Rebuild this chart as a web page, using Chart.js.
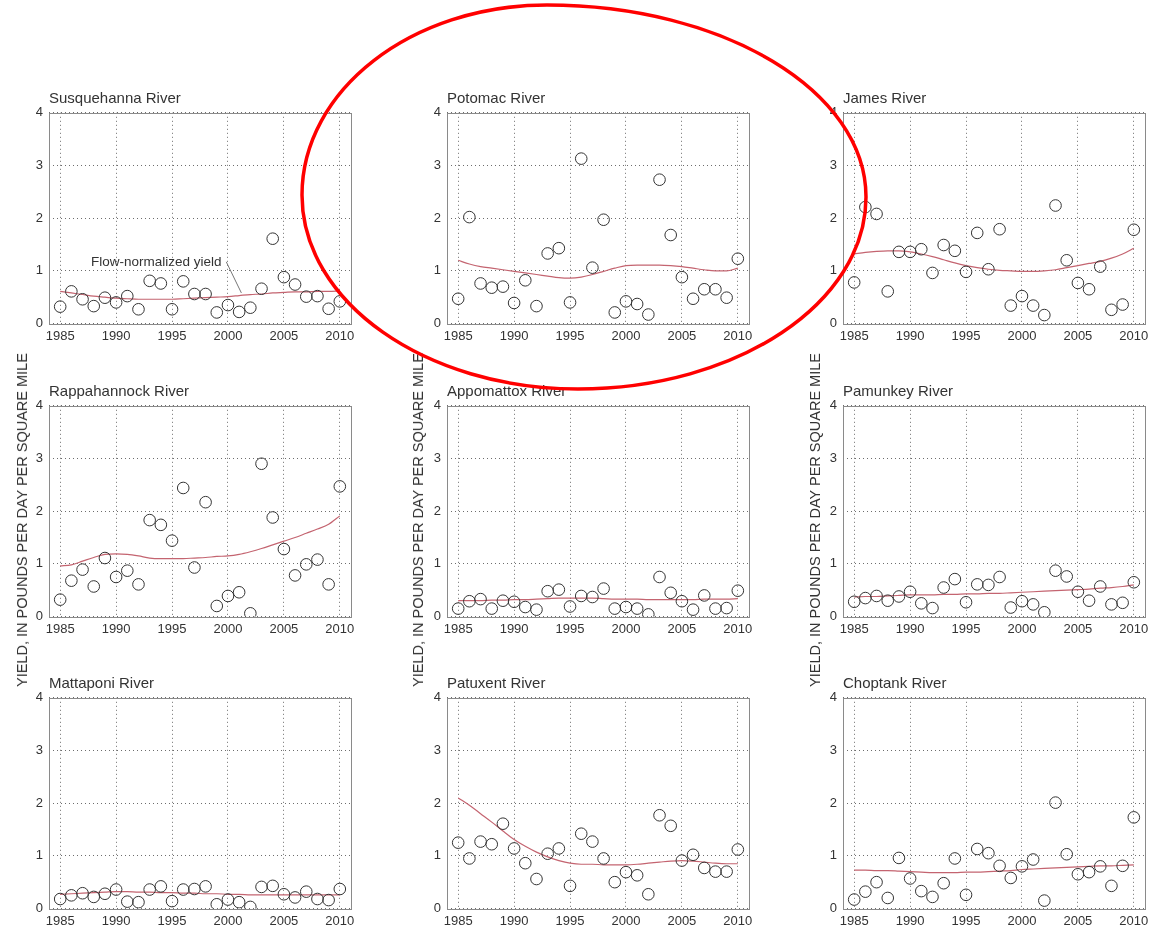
<!DOCTYPE html>
<html>
<head>
<meta charset="utf-8">
<script src="https://cdn.jsdelivr.net/npm/chart.js@4.4.1/dist/chart.umd.min.js"></script>
<style>
html,body{margin:0;padding:0;background:#fff;width:1150px;height:929px;overflow:hidden;position:relative;font-family:"Liberation Sans",Arial,sans-serif}
canvas.panel{position:absolute}
.ylab{position:absolute;white-space:nowrap;font-size:14.5px;color:#333;transform:translate(-50%,-50%) rotate(-90deg);}
svg.mark{position:absolute;left:0;top:0;pointer-events:none}
</style>
</head>
<body>
<script>
// ---------- data ----------
const years = [1985,1986,1987,1988,1989,1990,1991,1992,1993,1994,1995,1996,1997,1998,1999,2000,2001,2002,2003,2004,2005,2006,2007,2008,2009,2010];
const xTicks = [1985,1990,1995,2000,2005,2010];
const yTicks = [0,1,2,3,4];
const yAxisTitle = 'YIELD, IN POUNDS PER DAY PER SQUARE MILE';
const trendLabel = 'Flow-normalized yield';

const riverNames = ['Susquehanna River','Potomac River','James River','Rappahannock River','Appomattox River','Pamunkey River','Mattaponi River','Patuxent River','Choptank River'];

const susquehannaYield = [0.32,0.61,0.46,0.33,0.49,0.40,0.52,0.27,0.81,0.76,0.27,0.80,0.56,0.56,0.21,0.35,0.22,0.30,0.66,1.61,0.88,0.74,0.51,0.52,0.28,0.42];
const susquehannaTrend = [0.61,0.58,0.55,0.52,0.50,0.48,0.47,0.46,0.46,0.46,0.46,0.47,0.48,0.49,0.50,0.51,0.53,0.55,0.56,0.58,0.59,0.60,0.60,0.61,0.61,0.62];

const potomacYield = [0.47,2.02,0.76,0.68,0.70,0.39,0.82,0.33,1.33,1.43,0.40,3.13,1.06,1.97,0.21,0.42,0.37,0.17,2.73,1.68,0.88,0.47,0.65,0.65,0.49,1.23];
const potomacTrend = [1.20,1.13,1.08,1.05,1.02,0.99,0.96,0.93,0.90,0.87,0.86,0.88,0.93,0.99,1.05,1.10,1.11,1.11,1.11,1.10,1.08,1.05,1.02,1.00,1.00,1.05];

const jamesYield = [0.78,2.21,2.08,0.61,1.36,1.36,1.41,0.96,1.49,1.38,0.98,1.72,1.03,1.79,0.34,0.52,0.34,0.16,2.24,1.20,0.77,0.65,1.08,0.26,0.36,1.78];
const jamesTrend = [1.32,1.35,1.37,1.38,1.38,1.36,1.32,1.27,1.21,1.15,1.10,1.06,1.03,1.01,1.00,0.99,0.99,1.00,1.02,1.06,1.10,1.14,1.18,1.24,1.32,1.43];

const rappahannockYield = [0.32,0.68,0.89,0.57,1.11,0.75,0.87,0.61,1.83,1.74,1.44,2.44,0.93,2.17,0.20,0.39,0.46,0.06,2.90,1.88,1.28,0.78,0.99,1.08,0.61,2.47];
const rappahannockTrend = [0.96,0.98,1.05,1.12,1.18,1.19,1.18,1.15,1.11,1.10,1.10,1.10,1.11,1.12,1.14,1.15,1.18,1.23,1.29,1.36,1.43,1.50,1.58,1.66,1.75,1.91];

const appomattoxYield = [0.15,0.29,0.33,0.15,0.30,0.28,0.18,0.13,0.48,0.51,0.19,0.39,0.37,0.53,0.15,0.18,0.15,0.04,0.75,0.45,0.29,0.13,0.40,0.15,0.16,0.49];
const appomattoxTrend = [0.30,0.30,0.30,0.31,0.31,0.32,0.32,0.33,0.34,0.35,0.35,0.35,0.35,0.34,0.33,0.33,0.33,0.32,0.32,0.32,0.32,0.32,0.33,0.33,0.33,0.34];

const pamunkeyYield = [0.28,0.35,0.39,0.30,0.38,0.47,0.25,0.16,0.55,0.71,0.27,0.61,0.60,0.75,0.17,0.29,0.23,0.08,0.87,0.76,0.47,0.30,0.57,0.23,0.26,0.65];
const pamunkeyTrend = [0.37,0.38,0.38,0.39,0.40,0.41,0.41,0.41,0.42,0.42,0.43,0.43,0.44,0.44,0.45,0.46,0.47,0.48,0.49,0.50,0.51,0.52,0.54,0.55,0.57,0.60];

const mattaponiYield = [0.18,0.25,0.29,0.22,0.28,0.36,0.13,0.12,0.36,0.42,0.14,0.36,0.37,0.42,0.08,0.17,0.12,0.03,0.41,0.43,0.27,0.21,0.32,0.18,0.16,0.37];
const mattaponiTrend = [0.27,0.28,0.29,0.30,0.31,0.32,0.32,0.31,0.31,0.30,0.30,0.29,0.29,0.28,0.28,0.27,0.27,0.26,0.26,0.26,0.26,0.26,0.26,0.26,0.26,0.26];

const patuxentYield = [1.25,0.95,1.27,1.22,1.61,1.14,0.86,0.56,1.04,1.14,0.43,1.42,1.27,0.95,0.50,0.69,0.63,0.27,1.77,1.57,0.91,1.02,0.77,0.70,0.70,1.12];
const patuxentTrend = [2.10,1.96,1.80,1.64,1.47,1.31,1.18,1.07,0.98,0.91,0.86,0.84,0.84,0.83,0.83,0.83,0.84,0.86,0.88,0.90,0.91,0.90,0.88,0.86,0.85,0.85];

const choptankYield = [0.17,0.32,0.50,0.20,0.96,0.57,0.33,0.22,0.48,0.95,0.26,1.13,1.05,0.81,0.58,0.80,0.93,0.15,2.01,1.03,0.65,0.69,0.80,0.43,0.81,1.73];
const choptankTrend = [0.73,0.73,0.72,0.72,0.71,0.70,0.69,0.68,0.68,0.68,0.69,0.69,0.70,0.71,0.72,0.74,0.75,0.76,0.77,0.78,0.79,0.80,0.81,0.81,0.82,0.83];

const yieldSeries = [susquehannaYield,potomacYield,jamesYield,rappahannockYield,appomattoxYield,pamunkeyYield,mattaponiYield,patuxentYield,choptankYield];
const trendSeries = [susquehannaTrend,potomacTrend,jamesTrend,rappahannockTrend,appomattoxTrend,pamunkeyTrend,mattaponiTrend,patuxentTrend,choptankTrend];

// ---------- layout ----------
const FONT = '"Liberation Sans", Arial, sans-serif';
const colLeft = [4, 402, 798];
const rowTop = [90, 383, 675];
const CW = 356, CH = 256;

const framePlugin = {
  id: 'frame',
  beforeDatasetsDraw(chart) {
    const {ctx, chartArea: a} = chart;
    ctx.save();
    ctx.strokeStyle = '#8a8a8a';
    ctx.lineWidth = 1;
    ctx.strokeRect(Math.round(a.left) + 0.5, Math.round(a.top) + 0.5, Math.round(a.right - a.left), Math.round(a.bottom - a.top));
    ctx.restore();
  }
};

const notePlugin = {
  id: 'note',
  afterDatasetsDraw(chart, args, opts) {
    if (!opts || !opts.text) return;
    const {ctx, scales: {x, y}} = chart;
    ctx.save();
    ctx.fillStyle = '#333';
    ctx.font = '13.5px ' + FONT;
    ctx.textBaseline = 'middle';
    ctx.textAlign = 'left';
    ctx.fillText(opts.text, x.getPixelForValue(opts.at[0]), y.getPixelForValue(opts.at[1]));
    ctx.strokeStyle = '#777';
    ctx.lineWidth = 1;
    ctx.beginPath();
    ctx.moveTo(x.getPixelForValue(opts.from[0]), y.getPixelForValue(opts.from[1]));
    ctx.lineTo(x.getPixelForValue(opts.to[0]), y.getPixelForValue(opts.to[1]));
    ctx.stroke();
    ctx.restore();
  }
};

const gridColor = 'rgba(60,60,60,0.75)';

riverNames.forEach((name, i) => {
  const r = Math.floor(i / 3), c = i % 3;
  const cv = document.createElement('canvas');
  cv.className = 'panel';
  cv.width = CW; cv.height = CH;
  cv.style.left = colLeft[c] + 'px';
  cv.style.top = rowTop[r] + 'px';
  document.body.appendChild(cv);

  new Chart(cv, {
    type: 'scatter',
    data: {
      datasets: [
        {
          type: 'line',
          data: years.map((yr, k) => ({x: yr, y: trendSeries[i][k]})),
          borderColor: '#c46470',
          borderWidth: 1.2,
          pointRadius: 0,
          cubicInterpolationMode: 'monotone',
          fill: false,
          order: 2
        },
        {
          type: 'scatter',
          data: years.map((yr, k) => ({x: yr, y: yieldSeries[i][k]})),
          pointStyle: 'circle',
          pointRadius: 5.8,
          borderColor: '#333',
          borderWidth: 1,
          backgroundColor: 'rgba(0,0,0,0)',
          order: 1
        }
      ]
    },
    options: {
      responsive: false,
      animation: false,
      events: [],
      layout: {padding: {left: 0, right: 9, top: 0, bottom: 0}},
      plugins: {
        legend: {display: false},
        tooltip: {enabled: false},
        title: {
          display: true, text: name, align: 'start', fullSize: false,
          color: '#333', font: {size: 15, weight: 'normal', family: FONT, lineHeight: 1.2},
          padding: {top: 0, bottom: 4.8}
        },
        note: i === 0 ? {text: trendLabel, at: [1987.75, 1.16], from: [1999.85, 1.17], to: [2001.2, 0.58]} : {}
      },
      scales: {
        x: {
          type: 'linear', min: 1984, max: 2011,
          afterBuildTicks(s) { s.ticks = xTicks.map(v => ({value: v})); },
          afterFit(s) { s.height = 22.5; },
          ticks: {callback: v => String(v), color: '#333', font: {size: 13, family: FONT}, padding: 5, maxRotation: 0, autoSkip: false},
          grid: {color: gridColor, lineWidth: 1, drawTicks: false},
          border: {display: false, dash: [1, 3]}
        },
        y: {
          type: 'linear', min: 0, max: 4,
          afterBuildTicks(s) { s.ticks = yTicks.map(v => ({value: v})); },
          afterFit(s) { s.width = 45; },
          ticks: {callback: v => String(v), color: '#333', font: {size: 13, family: FONT}, padding: 6},
          grid: {color: gridColor, lineWidth: 1, drawTicks: false},
          border: {display: false, dash: [1, 3]}
        }
      }
    },
    plugins: [framePlugin, notePlugin]
  });
});

// rotated y axis titles, one per column
[22, 418, 815].forEach(x => {
  const d = document.createElement('div');
  d.className = 'ylab';
  d.textContent = yAxisTitle;
  d.style.left = x + 'px';
  d.style.top = '520px';
  document.body.appendChild(d);
});

// red hand-drawn highlight ring around the Potomac panel (extreme points top, right, bottom, left)
const ring = {top: [547, 5], right: [866, 197], bottom: [578, 389], left: [302, 195]};
const K = 0.5523;
const T = ring.top, R = ring.right, B = ring.bottom, L = ring.left;
const d = [
  'M', T[0], T[1],
  'C', T[0] + K * (R[0] - T[0]), T[1], R[0], R[1] - K * (R[1] - T[1]), R[0], R[1],
  'C', R[0], R[1] + K * (B[1] - R[1]), B[0] + K * (R[0] - B[0]), B[1], B[0], B[1],
  'C', B[0] - K * (B[0] - L[0]), B[1], L[0], L[1] + K * (B[1] - L[1]), L[0], L[1],
  'C', L[0], L[1] - K * (L[1] - T[1]), T[0] - K * (T[0] - L[0]), T[1], T[0], T[1], 'Z'
].join(' ');
const NS = 'http://www.w3.org/2000/svg';
const svg = document.createElementNS(NS, 'svg');
svg.setAttribute('class', 'mark');
svg.setAttribute('width', '1150');
svg.setAttribute('height', '929');
const path = document.createElementNS(NS, 'path');
path.setAttribute('d', d);
path.setAttribute('fill', 'none');
path.setAttribute('stroke', '#ff0000');
path.setAttribute('stroke-width', '3.5');
svg.appendChild(path);
document.body.appendChild(svg);
</script>
</body>
</html>
